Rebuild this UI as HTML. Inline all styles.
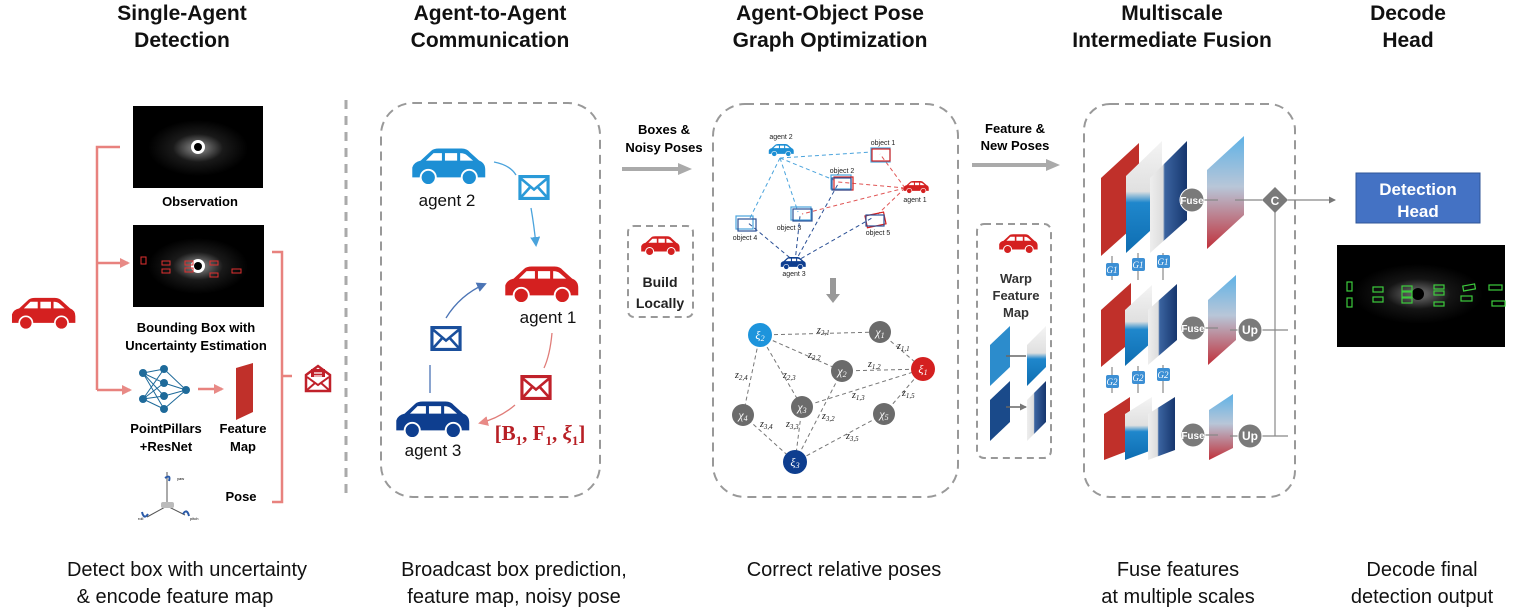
<!DOCTYPE html>
<html><head><meta charset="utf-8"><style>
html,body{margin:0;padding:0;background:#fff;}
svg{display:block;font-family:"Liberation Sans",sans-serif;}
</style></head><body>
<svg width="1522" height="610" viewBox="0 0 1522 610" xmlns="http://www.w3.org/2000/svg">
<defs>
<symbol id="car" viewBox="0 0 100 50">
<path d="M3,40 L3,27 Q5,20 14,18 L28,5 Q31,2 38,2 L68,2 Q75,2 79,7 L91,18 Q99,21 99,30 L99,40 Z" fill="currentColor"/>
<path d="M31,8 L42,8 L42,18 L21,18 Z M46,8 L62,8 L62,18 L46,18 Z M66,8 Q72,8 75,11 L83,18 L66,18 Z" fill="#fff"/>
<circle cx="24" cy="40" r="10" fill="currentColor" stroke="#fff" stroke-width="2.5"/>
<circle cx="78" cy="40" r="10" fill="currentColor" stroke="#fff" stroke-width="2.5"/>
</symbol>
<symbol id="env" viewBox="0 0 30 24">
<rect x="1.5" y="1.5" width="27" height="21" fill="#fff" stroke="currentColor" stroke-width="3"/>
<path d="M2,3 L15,14 L28,3 M2,22 L11,12 M28,22 L19,12" fill="none" stroke="currentColor" stroke-width="2.5"/>
</symbol>
<marker id="ag" markerUnits="userSpaceOnUse" markerWidth="14" markerHeight="14" refX="4" refY="7" orient="auto"><path d="M0,1 L14,7 L0,13 Z" fill="#aaa"/></marker>
<marker id="ar" markerUnits="userSpaceOnUse" markerWidth="10" markerHeight="10" refX="8" refY="5" orient="auto"><path d="M0,0 L10,5 L0,10 Z" fill="#e88a86"/></marker>
<marker id="ab" markerUnits="userSpaceOnUse" markerWidth="10" markerHeight="10" refX="8" refY="5" orient="auto"><path d="M0,0 L10,5 L0,10 Z" fill="#4aa3dc"/></marker>
<marker id="ad" markerUnits="userSpaceOnUse" markerWidth="10" markerHeight="10" refX="8" refY="5" orient="auto"><path d="M0,0 L10,5 L0,10 Z" fill="#4b74b5"/></marker>
<marker id="ak" markerUnits="userSpaceOnUse" markerWidth="7" markerHeight="7" refX="6" refY="3.5" orient="auto"><path d="M0,0 L7,3.5 L0,7 Z" fill="#777"/></marker>
<radialGradient id="lid"><stop offset="0" stop-color="#fff"/><stop offset="0.15" stop-color="#ddd"/><stop offset="0.5" stop-color="#333"/><stop offset="1" stop-color="#000"/></radialGradient>
<linearGradient id="fuse" x1="0" y1="0" x2="0" y2="1"><stop offset="0" stop-color="#5fb2e6"/><stop offset="0.45" stop-color="#b8c6d8"/><stop offset="1" stop-color="#c0303a"/></linearGradient>
<linearGradient id="wb" x1="0" y1="0" x2="0" y2="1"><stop offset="0" stop-color="#f4f4f4"/><stop offset="0.45" stop-color="#e0e0e0"/><stop offset="0.55" stop-color="#1f87cc"/><stop offset="1" stop-color="#0e6db1"/></linearGradient>
<linearGradient id="wd" x1="0" y1="0" x2="1" y2="0"><stop offset="0" stop-color="#eee"/><stop offset="0.35" stop-color="#ddd"/><stop offset="0.4" stop-color="#3b64a0"/><stop offset="1" stop-color="#16366e"/></linearGradient>
</defs>

<g font-weight="bold" font-size="21" text-anchor="middle" fill="#111">
<text x="182" y="20">Single-Agent</text><text x="182" y="47">Detection</text>
<text x="490" y="20">Agent-to-Agent</text><text x="490" y="47">Communication</text>
<text x="830" y="20">Agent-Object Pose</text><text x="830" y="47">Graph Optimization</text>
<text x="1172" y="20">Multiscale</text><text x="1172" y="47">Intermediate Fusion</text>
<text x="1408" y="20">Decode</text><text x="1408" y="47">Head</text>
</g>
<g font-size="20" text-anchor="middle" fill="#111">
<text x="187" y="576">Detect box with uncertainty</text><text x="175" y="603">&amp; encode feature map</text>
<text x="514" y="576">Broadcast box prediction,</text><text x="514" y="603">feature map, noisy pose</text>
<text x="844" y="576">Correct relative poses</text>
<text x="1178" y="576">Fuse features</text><text x="1178" y="603">at multiple scales</text>
<text x="1422" y="576">Decode final</text><text x="1422" y="603">detection output</text>
</g>

<use href="#car" x="10" y="293" width="66" height="40" color="#d42020"/>
<g stroke="#e8827e" stroke-width="2.5" fill="none">
<path d="M120,147 L97,147 L97,390"/>
<path d="M97,263 L128,263" marker-end="url(#ar)"/>
<path d="M97,390 L130,390" marker-end="url(#ar)"/>
<path d="M198,389 L222,389" marker-end="url(#ar)"/>
<path d="M272,252 L282,252 L282,502 L272,502 M282,376 L292,376"/>
</g>
<rect x="133" y="106" width="130" height="82" fill="#000"/>
<ellipse cx="198" cy="148" rx="50" ry="28" fill="url(#lid)" opacity="0.5"/>
<circle cx="198" cy="147" r="7" fill="#fff"/><circle cx="198" cy="147" r="4" fill="#000"/>
<text x="200" y="206" font-size="13" font-weight="bold" text-anchor="middle">Observation</text>
<rect x="133" y="225" width="131" height="82" fill="#000"/>
<ellipse cx="198" cy="266" rx="50" ry="28" fill="url(#lid)" opacity="0.5"/>
<circle cx="198" cy="266" r="7" fill="#fff"/><circle cx="198" cy="266" r="4" fill="#000"/>
<g stroke="#e03030" stroke-width="1" fill="none">
<rect x="141" y="257" width="5" height="7"/><rect x="162" y="261" width="8" height="4"/><rect x="162" y="269" width="8" height="4"/>
<rect x="185" y="261" width="8" height="4"/><rect x="185" y="268" width="8" height="4"/><rect x="210" y="261" width="8" height="4"/><rect x="210" y="273" width="8" height="4"/><rect x="232" y="269" width="9" height="4"/>
</g>
<text x="196" y="332" font-size="13" font-weight="bold" text-anchor="middle">Bounding Box with</text>
<text x="196" y="350" font-size="13" font-weight="bold" text-anchor="middle">Uncertainty Estimation</text>
<g stroke="#1e6a9a" stroke-width="1">
<path d="M143,373 L164,369 M143,373 L164,383 M143,373 L164,396 M143,373 L164,409 M143,399 L164,369 M143,399 L164,383 M143,399 L164,396 M143,399 L164,409 M164,369 L186,390 M164,383 L186,390 M164,396 L186,390 M164,409 L186,390"/>
</g>
<g fill="#1e6a9a"><circle cx="143" cy="373" r="4"/><circle cx="143" cy="399" r="4"/><circle cx="164" cy="369" r="4"/><circle cx="164" cy="383" r="4"/><circle cx="164" cy="396" r="4"/><circle cx="164" cy="409" r="4"/><circle cx="186" cy="390" r="4"/></g>
<polygon points="236,368 253,363 253,412 236,420" fill="#c0302a"/>
<text x="166" y="433" font-size="13" font-weight="bold" text-anchor="middle">PointPillars</text>
<text x="166" y="451" font-size="13" font-weight="bold" text-anchor="middle">+ResNet</text>
<text x="243" y="433" font-size="13" font-weight="bold" text-anchor="middle">Feature</text>
<text x="243" y="451" font-size="13" font-weight="bold" text-anchor="middle">Map</text>
<text x="241" y="501" font-size="13" font-weight="bold" text-anchor="middle">Pose</text>
<g stroke="#555" stroke-width="1" fill="none"><path d="M167,472 L167,506 L147,517 M167,506 L185,515"/></g>
<path d="M165,478 q6,-4 4,3" stroke="#2a5aa8" stroke-width="2" fill="none"/>
<path d="M142,512 q2,8 6,2" stroke="#2a5aa8" stroke-width="2" fill="none"/>
<path d="M183,514 q4,-6 6,2" stroke="#2a5aa8" stroke-width="2" fill="none"/>
<rect x="161" y="502" width="13" height="6" rx="2" fill="#bbb"/>
<text x="177" y="480" font-size="4">yaw</text><text x="138" y="520" font-size="4">roll</text><text x="190" y="520" font-size="4">pitch</text>
<g transform="translate(306,366)"><path d="M0,9 L12,0 L24,9 L24,25 L0,25 Z" fill="#fff" stroke="#c0212a" stroke-width="2.5"/><rect x="5" y="3" width="14" height="12" fill="#c0212a"/><path d="M8,7 h8 M8,10 h8" stroke="#fff" stroke-width="1.2"/><path d="M1,11 L12,19 L23,11 M1,24 L9,17 M23,24 L15,17" stroke="#c0212a" stroke-width="2" fill="#fff"/></g>

<line x1="346" y1="100" x2="346" y2="500" stroke="#aaa" stroke-width="3" stroke-dasharray="9,7"/>

<rect x="381" y="103" width="219" height="394" rx="32" fill="none" stroke="#999" stroke-width="2" stroke-dasharray="9,6"/>
<use href="#car" x="410" y="146" width="76" height="40" color="#1d8fd4"/>
<text x="447" y="206" font-size="17" text-anchor="middle" fill="#111">agent 2</text>
<use href="#car" x="503" y="264" width="76" height="40" color="#d42020"/>
<text x="548" y="323" font-size="17" text-anchor="middle" fill="#111">agent 1</text>
<use href="#car" x="394" y="399" width="76" height="40" color="#0e3e8f"/>
<text x="433" y="456" font-size="17" text-anchor="middle" fill="#111">agent 3</text>
<use href="#env" x="518" y="175" width="32" height="25" color="#2a9ad8"/>
<use href="#env" x="430" y="326" width="32" height="25" color="#1a4f9c"/>
<use href="#env" x="520" y="375" width="32" height="25" color="#c0212a"/>
<path d="M494,162 Q510,165 516,175" stroke="#4aa3dc" stroke-width="1.3" fill="none"/>
<path d="M531,208 Q534,225 536,245" stroke="#4aa3dc" stroke-width="1.3" fill="none" marker-end="url(#ab)"/>
<path d="M430,393 L430,365" stroke="#4b74b5" stroke-width="1.3" fill="none"/>
<path d="M446,318 Q460,295 485,284" stroke="#4b74b5" stroke-width="1.3" fill="none" marker-end="url(#ad)"/>
<path d="M552,333 Q550,355 544,368" stroke="#e07c78" stroke-width="1.3" fill="none"/>
<path d="M515,405 Q500,418 480,423" stroke="#e07c78" stroke-width="1.3" fill="none" marker-end="url(#ar)"/>
<text x="540" y="440" font-size="21" font-family="Liberation Serif,serif" font-weight="bold" fill="#b81f25" text-anchor="middle">[B<tspan font-size="13" dy="5">1</tspan><tspan dy="-5">, F</tspan><tspan font-size="13" dy="5">1</tspan><tspan dy="-5">, </tspan><tspan font-style="italic">ξ</tspan><tspan font-size="13" dy="5">1</tspan><tspan dy="-5">]</tspan></text>
<text x="664" y="134" font-size="13" font-weight="bold" text-anchor="middle">Boxes &amp;</text>
<text x="664" y="152" font-size="13" font-weight="bold" text-anchor="middle">Noisy Poses</text>
<line x1="622" y1="169" x2="682" y2="169" stroke="#aaa" stroke-width="4" marker-end="url(#ag)"/>
<rect x="628" y="226" width="65" height="91" rx="6" fill="none" stroke="#999" stroke-width="2" stroke-dasharray="7,5"/>
<use href="#car" x="640" y="235" width="40" height="21" color="#d42020"/>
<text x="660" y="287" font-size="14" font-weight="bold" text-anchor="middle" fill="#222">Build</text>
<text x="660" y="308" font-size="14" font-weight="bold" text-anchor="middle" fill="#222">Locally</text>

<rect x="713" y="104" width="245" height="393" rx="32" fill="none" stroke="#999" stroke-width="2" stroke-dasharray="9,6"/>
<g font-size="7" text-anchor="middle" fill="#222">
<text x="781" y="139">agent 2</text><text x="883" y="145">object 1</text><text x="842" y="173">object 2</text><text x="915" y="202">agent 1</text>
<text x="789" y="230">object 3</text><text x="745" y="240">object 4</text><text x="878" y="235">object 5</text><text x="794" y="276">agent 3</text>
</g>
<g stroke-width="1" stroke-dasharray="4,3" fill="none">
<g stroke="#4aa3dc"><path d="M780,158 L872,152 M780,158 L834,180 M780,158 L749,220 M780,158 L798,212"/></g>
<g stroke="#e05555"><path d="M905,188 L880,154 M905,188 L838,182 M905,188 L802,214 M905,188 L878,214"/></g>
<g stroke="#2a4f95"><path d="M795,262 L838,184 M795,262 L800,216 M795,262 L747,222 M795,262 L872,218"/></g>
</g>
<use href="#car" x="768" y="143" width="26" height="14" color="#1d8fd4"/>
<use href="#car" x="903" y="180" width="26" height="14" color="#d42020"/>
<use href="#car" x="780" y="256" width="26" height="14" color="#0e3e8f"/>
<g fill="none" stroke-width="1.2">
<rect x="871" y="148" width="19" height="14" stroke="#4aa3dc"/><rect x="872" y="149" width="18" height="12" stroke="#d42020"/>
<rect x="831" y="175" width="20" height="14" stroke="#4aa3dc"/><rect x="834" y="177" width="19" height="13" stroke="#d42020"/><rect x="832" y="178" width="19" height="12" stroke="#2a4f95"/>
<rect x="791" y="207" width="20" height="13" stroke="#4aa3dc"/><rect x="793" y="209" width="19" height="12" stroke="#2a4f95"/>
<rect x="736" y="216" width="17" height="13" stroke="#4aa3dc"/><rect x="738" y="219" width="18" height="12" stroke="#2a4f95"/>
<rect x="866" y="214" width="19" height="12" stroke="#d42020" transform="rotate(-12 875 220)"/><rect x="866" y="215" width="18" height="11" stroke="#2a4f95"/>
</g>
<path d="M833,278 L833,296" stroke="#999" stroke-width="6"/><path d="M826,294 L840,294 L833,303 Z" fill="#999"/>
<g stroke="#777" stroke-width="1" stroke-dasharray="4,3">
<path d="M760,335 L880,332 M760,335 L842,371 M760,335 L743,415 M760,335 L802,407 M880,332 L923,369 M842,371 L923,369 M802,407 L923,369 M923,369 L884,414 M842,371 L795,462 M802,407 L795,462 M743,415 L795,462 M884,414 L795,462"/>
</g>
<g fill="#6b6b6b"><circle cx="880" cy="332" r="11"/><circle cx="842" cy="371" r="11"/><circle cx="802" cy="407" r="11"/><circle cx="743" cy="415" r="11"/><circle cx="884" cy="414" r="11"/></g>
<circle cx="760" cy="335" r="12" fill="#1d94dc"/><circle cx="923" cy="369" r="12" fill="#d42020"/><circle cx="795" cy="462" r="12" fill="#0e3e8f"/>
<g font-family="Liberation Serif,serif" font-style="italic" fill="#fff" font-size="12" text-anchor="middle">
<text x="760" y="339">ξ<tspan font-size="8" dy="2">2</tspan></text><text x="923" y="373">ξ<tspan font-size="8" dy="2">1</tspan></text><text x="795" y="466">ξ<tspan font-size="8" dy="2">3</tspan></text>
<text x="880" y="336">χ<tspan font-size="8" dy="2">1</tspan></text><text x="842" y="375">χ<tspan font-size="8" dy="2">2</tspan></text><text x="802" y="411">χ<tspan font-size="8" dy="2">3</tspan></text><text x="743" y="419">χ<tspan font-size="8" dy="2">4</tspan></text><text x="884" y="418">χ<tspan font-size="8" dy="2">5</tspan></text>
</g>
<g font-family="Liberation Serif,serif" font-style="italic" fill="#222" font-size="10">
<text x="817" y="333">z<tspan font-size="7" dy="2">2,1</tspan></text><text x="897" y="349">z<tspan font-size="7" dy="2">1,1</tspan></text>
<text x="808" y="358">z<tspan font-size="7" dy="2">2,2</tspan></text><text x="868" y="367">z<tspan font-size="7" dy="2">1,2</tspan></text>
<text x="735" y="378">z<tspan font-size="7" dy="2">2,4</tspan></text><text x="783" y="378">z<tspan font-size="7" dy="2">2,3</tspan></text>
<text x="852" y="398">z<tspan font-size="7" dy="2">1,3</tspan></text><text x="902" y="396">z<tspan font-size="7" dy="2">1,5</tspan></text>
<text x="822" y="419">z<tspan font-size="7" dy="2">3,2</tspan></text><text x="760" y="427">z<tspan font-size="7" dy="2">3,4</tspan></text>
<text x="786" y="427">z<tspan font-size="7" dy="2">3,3</tspan></text><text x="846" y="439">z<tspan font-size="7" dy="2">3,5</tspan></text>
</g>

<text x="1015" y="133" font-size="13" font-weight="bold" text-anchor="middle">Feature &amp;</text>
<text x="1015" y="150" font-size="13" font-weight="bold" text-anchor="middle">New Poses</text>
<line x1="972" y1="165" x2="1050" y2="165" stroke="#aaa" stroke-width="4" marker-end="url(#ag)"/>
<rect x="977" y="224" width="74" height="234" rx="7" fill="none" stroke="#999" stroke-width="2" stroke-dasharray="7,5"/>
<use href="#car" x="998" y="233" width="40" height="21" color="#d42020"/>
<g font-size="13" font-weight="bold" text-anchor="middle" fill="#333"><text x="1016" y="283">Warp</text><text x="1016" y="300">Feature</text><text x="1016" y="317">Map</text></g>
<polygon points="990,345 1010,326 1010,367 990,386" fill="#2c8ccc"/>
<polygon points="1027,345 1046,326 1046,367 1027,386" fill="url(#wb)"/>
<polygon points="990,400 1010,381 1010,422 990,441" fill="#1a4a8a"/>
<polygon points="1027,400 1046,381 1046,422 1027,441" fill="url(#wd)"/>
<path d="M1006,356 L1026,356 M1006,407 L1026,407" stroke="#666" stroke-width="1.5" marker-end="url(#ak)"/>

<rect x="1084" y="104" width="211" height="393" rx="26" fill="none" stroke="#999" stroke-width="2" stroke-dasharray="9,6"/>
<g>
<polygon points="1101,178 1139,143 1139,222 1101,256" fill="#c0302a"/>
<polygon points="1126,176 1162,141 1162,220 1126,253" fill="url(#wb)"/>
<polygon points="1150,178 1187,141 1187,220 1150,253" fill="url(#wd)"/>
<polygon points="1207,170 1244,136 1244,215 1207,249" fill="url(#fuse)"/>
<polygon points="1101,310 1131,283 1131,342 1101,367" fill="#c0302a"/>
<polygon points="1125,310 1152,285 1152,342 1125,366" fill="url(#wb)"/>
<polygon points="1148,310 1177,284 1177,340 1148,365" fill="url(#wd)"/>
<polygon points="1208,300 1236,275 1236,340 1208,365" fill="url(#fuse)"/>
<polygon points="1104,414 1130,397 1130,450 1104,460" fill="#c0302a"/>
<polygon points="1125,414 1152,397 1152,450 1125,460" fill="url(#wb)"/>
<polygon points="1148,414 1175,397 1175,450 1148,460" fill="url(#wd)"/>
<polygon points="1209,410 1233,394 1233,448 1209,460" fill="url(#fuse)"/>
</g>
<g stroke="#888" stroke-width="1.2" fill="none">
<path d="M1195,200 L1218,200 M1235,200 L1262,200 M1195,328 L1218,328 M1230,330 L1288,330 M1195,435 L1218,435 M1230,436 L1288,436 M1275,212 L1275,436"/>
<path d="M1288,200 L1335,200" marker-end="url(#ak)"/>
<path d="M1112,256 L1112,280 M1138,253 L1138,280 M1163,253 L1163,280 M1112,367 L1112,393 M1138,366 L1138,393 M1163,365 L1163,393"/>
</g>
<g fill="#7a7a7a" stroke="#fff" stroke-width="1"><circle cx="1192" cy="200" r="12"/><circle cx="1193" cy="328" r="12"/><circle cx="1193" cy="435" r="12"/><circle cx="1250" cy="330" r="12"/><circle cx="1250" cy="436" r="12"/></g>
<polygon points="1275,187 1288,200 1275,213 1262,200" fill="#7a7a7a"/>
<g fill="#fff" font-size="10" font-weight="bold" text-anchor="middle"><text x="1192" y="204">Fuse</text><text x="1193" y="332">Fuse</text><text x="1193" y="439">Fuse</text><text x="1250" y="334" font-size="12">Up</text><text x="1250" y="440" font-size="12">Up</text><text x="1275" y="205" font-size="12">C</text></g>
<g fill="#3c8fd4"><rect x="1106" y="263" width="13" height="13" rx="2"/><rect x="1132" y="258" width="13" height="13" rx="2"/><rect x="1157" y="255" width="13" height="13" rx="2"/><rect x="1106" y="375" width="13" height="13" rx="2"/><rect x="1132" y="371" width="13" height="13" rx="2"/><rect x="1157" y="368" width="13" height="13" rx="2"/></g>
<g fill="#fff" font-size="9" font-style="italic" font-family="Liberation Serif,serif" text-anchor="middle"><text x="1112" y="273">G1</text><text x="1138" y="268">G1</text><text x="1163" y="265">G1</text><text x="1112" y="385">G2</text><text x="1138" y="381">G2</text><text x="1163" y="378">G2</text></g>

<rect x="1356" y="173" width="124" height="50" fill="#4472c4" stroke="#2f5597" stroke-width="1"/>
<text x="1418" y="195" font-size="17" font-weight="bold" fill="#fff" text-anchor="middle">Detection</text>
<text x="1418" y="217" font-size="17" font-weight="bold" fill="#fff" text-anchor="middle">Head</text>
<rect x="1337" y="245" width="168" height="102" fill="#000"/>
<ellipse cx="1418" cy="294" rx="65" ry="30" fill="url(#lid)" opacity="0.4"/>
<circle cx="1418" cy="294" r="6" fill="#000"/>
<g stroke="#3dcc3d" stroke-width="1.2" fill="none">
<rect x="1347" y="282" width="5" height="9"/><rect x="1347" y="298" width="5" height="9"/><rect x="1373" y="287" width="10" height="5"/><rect x="1373" y="297" width="10" height="5"/>
<rect x="1402" y="286" width="10" height="5"/><rect x="1402" y="292" width="10" height="5"/><rect x="1402" y="298" width="10" height="5"/>
<rect x="1434" y="285" width="10" height="4"/><rect x="1434" y="291" width="10" height="4"/><rect x="1434" y="302" width="10" height="4"/>
<rect x="1463" y="285" width="12" height="5" transform="rotate(-10 1469 287)"/><rect x="1461" y="296" width="11" height="5"/><rect x="1489" y="285" width="13" height="5"/><rect x="1492" y="301" width="13" height="5"/>
</g>
</svg>
</body></html>
